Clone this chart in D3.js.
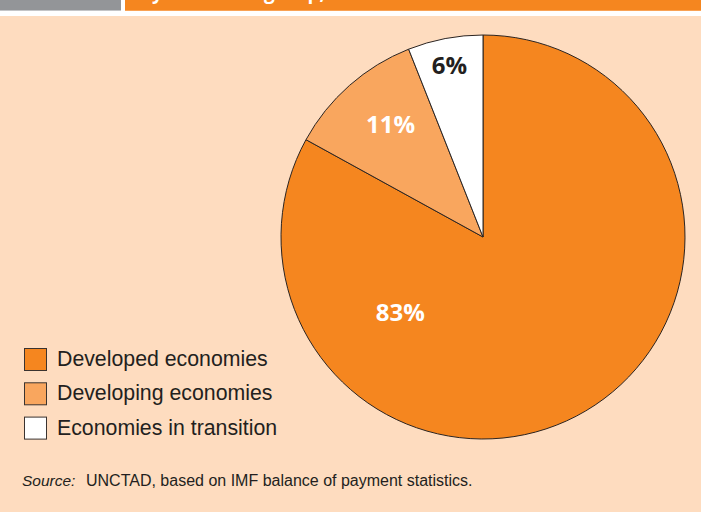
<!DOCTYPE html>
<html>
<head>
<meta charset="utf-8">
<script src="https://cdn.jsdelivr.net/npm/d3@7"></script>
<style>
  html, body { margin: 0; padding: 0; background: #ffffff; }
  svg { display: block; }
</style>
</head>
<body>
<svg id="chart" width="701" height="512"></svg>
<script>
// Share by economic group (per cent)
const categories = ["Developed economies", "Developing economies", "Economies in transition"];
const shares = [83, 11, 6];
const titleText = "by economic group, 2012";
const sourceLabel = "Source:";
const sourceText = "UNCTAD, based on IMF balance of payment statistics.";

const W = 701, H = 512;
const colors = ["#f5861f", "#f9a65e", "#ffffff"];
const labelColors = ["#ffffff", "#ffffff", "#231f20"];
// where each percentage label sits: angle (degrees clockwise from top) and fraction of radius
const labelPlacement = [
  { angle: 227.5, r: 0.555 },
  { angle: 320.5, r: 0.72 },
  { angle: 348.9, r: 0.865 }
];

const svg = d3.select("#chart");

// header strip
svg.append("rect").attr("x", 0).attr("y", 0).attr("width", 121).attr("height", 10).attr("fill", "#939598");
svg.append("rect").attr("x", 0).attr("y", 10).attr("width", 121).attr("height", 1).attr("fill", "#c4c5c7");
svg.append("rect").attr("x", 125).attr("y", 0).attr("width", W - 125).attr("height", 10).attr("fill", "#f5861f");
svg.append("rect").attr("x", 125).attr("y", 10).attr("width", W - 125).attr("height", 1).attr("fill", "#f8a255");
svg.append("text")
  .attr("x", 140).attr("y", -1)
  .attr("font-family", "'Open Sans', sans-serif")
  .attr("font-weight", 700)
  .attr("font-size", 19)
  .attr("fill", "#ffffff")
  .text(titleText);

// panel background
svg.append("rect").attr("x", 0).attr("y", 16).attr("width", W).attr("height", H - 16).attr("fill", "#fedcbf");

// pie
const cx = 483, cy = 237, R = 202;
const pie = d3.pie().sort(null).value(d => d);
const arcs = pie(shares);
const arc = d3.arc().innerRadius(0).outerRadius(R);

const g = svg.append("g").attr("transform", `translate(${cx},${cy})`);
g.selectAll("path.slice")
  .data(arcs)
  .join("path")
  .attr("class", "slice")
  .attr("d", arc)
  .attr("fill", (d, i) => colors[i])
  .attr("stroke", "#2b2421")
  .attr("stroke-width", 1)
  .attr("stroke-linejoin", "round");

const fmt = v => d3.format("d")(v) + "%";
g.selectAll("text.pct")
  .data(arcs)
  .join("text")
  .attr("class", "pct")
  .attr("x", (d, i) => Math.sin(labelPlacement[i].angle * Math.PI / 180) * R * labelPlacement[i].r)
  .attr("y", (d, i) => -Math.cos(labelPlacement[i].angle * Math.PI / 180) * R * labelPlacement[i].r)
  .attr("dy", "0.36em")
  .attr("text-anchor", "middle")
  .attr("font-family", "'Open Sans', sans-serif")
  .attr("font-weight", 700)
  .attr("font-size", 24)
  .attr("fill", (d, i) => labelColors[i])
  .text(d => fmt(d.data));

// legend
const legend = svg.append("g").attr("transform", "translate(24,348)");
const item = legend.selectAll("g.item")
  .data(categories)
  .join("g")
  .attr("class", "item")
  .attr("transform", (d, i) => `translate(0,${i * 34.3})`);
item.append("rect")
  .attr("x", 0.5).attr("y", 0.5)
  .attr("width", 22).attr("height", 22)
  .attr("fill", (d, i) => colors[i])
  .attr("stroke", "#3a3330")
  .attr("stroke-width", 1);
item.append("text")
  .attr("x", 33).attr("y", 18)
  .attr("font-family", "'Liberation Sans', Arial, sans-serif")
  .attr("font-size", 21.3)
  .attr("fill", "#231f20")
  .text(d => d);

// source note
const src = svg.append("text")
  .attr("x", 22).attr("y", 486)
  .attr("font-family", "'Liberation Sans', Arial, sans-serif")
  .attr("font-size", 15.5)
  .attr("fill", "#231f20");
src.append("tspan").attr("font-style", "italic").text(sourceLabel);
src.append("tspan").attr("x", 86).attr("font-size", 16).text(sourceText);
</script>
</body>
</html>
